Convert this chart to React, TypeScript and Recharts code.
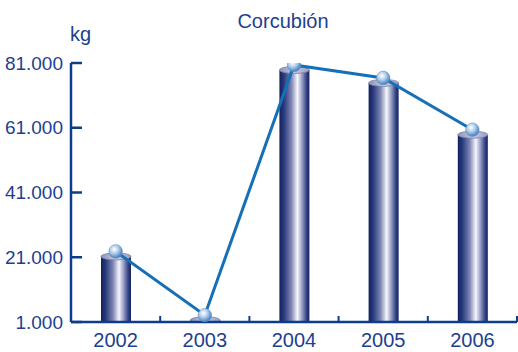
import React from 'react';
import { ComposedChart, Bar, Line, XAxis, YAxis } from 'recharts';

const years = ['2002', '2003', '2004', '2005', '2006'];
const kilos = [22800, 3100, 80400, 76400, 60400];
const yTicks = [1000, 21000, 41000, 61000, 81000];

const data = years.map((year, i) => ({ year, kg: kilos[i] }));

const W = 518;
const H = 352;
const LEFT = 71;
const RIGHT = 1;
const NAVY = '#1d3f8f';
const AXIS = '#0d3c8c';
const BAND = (W - LEFT - RIGHT) / years.length;

const fmt = (v: number) => v.toLocaleString('de-DE');

const Cylinder = (props: any) => {
  const { x, y, width, height } = props;
  if (height == null || height <= 0) return null;
  const ry = 3.5;
  const top = y + 5;
  const bottom = y + height;
  const cx = x + width / 2;
  return (
    <g>
      <rect x={x} y={top} width={width} height={Math.max(bottom - top, 0)} fill="url(#cyl)" />
      <ellipse cx={cx} cy={top} rx={width / 2} ry={ry} fill="url(#cylTop)" stroke="#7b7fab" strokeWidth={0.8} />
    </g>
  );
};

const Ball = (props: any) => {
  const { cx, cy } = props;
  if (cx == null || cy == null) return null;
  return <circle cx={cx} cy={cy} r={6.8} fill="url(#ball)" stroke="#5b8cc2" strokeWidth={0.5} />;
};

const XTick = (props: any) => {
  const { x, y, payload } = props;
  return (
    <g>
      <text x={x} y={y + 25} textAnchor="middle" fill={NAVY} fontSize={20} fontFamily="Arial, 'Liberation Sans', sans-serif">
        {payload.value}
      </text>
      <line x1={x + BAND / 2} x2={x + BAND / 2} y1={y - 6} y2={y} stroke={AXIS} strokeWidth={2} />
    </g>
  );
};

const YTick = (props: any) => {
  const { x, y, payload } = props;
  return (
    <g>
      <text x={x} y={y + 6.5} textAnchor="end" fill={NAVY} fontSize={19} fontFamily="'Liberation Sans Narrow', 'Arial Narrow', Arial, sans-serif">
        {fmt(payload.value)}
      </text>
      <line x1={x + 8} x2={x + 19} y1={y} y2={y} stroke={AXIS} strokeWidth={2.5} />
    </g>
  );
};

export default function App() {
  return (
    <div style={{ position: 'relative', width: W, height: H, background: '#fff' }}>
      <style>{`body{margin:0}`}</style>
      <div
        style={{
          position: 'absolute',
          left: 0,
          width: 566,
          top: 9,
          textAlign: 'center',
          fontFamily: "Arial, 'Liberation Sans', sans-serif",
          fontSize: 20,
          color: NAVY,
          lineHeight: '24px',
        }}
      >
        Corcubión
      </div>
      <div
        style={{
          position: 'absolute',
          left: 70,
          top: 22,
          fontFamily: "Arial, 'Liberation Sans', sans-serif",
          fontSize: 20,
          color: NAVY,
          lineHeight: '24px',
        }}
      >
        kg
      </div>
      <ComposedChart width={W} height={H} data={data} margin={{ top: 63, right: RIGHT, bottom: 0, left: 0 }}>
        <defs>
          <linearGradient id="cyl" x1="0" y1="0" x2="1" y2="0">
            <stop offset="0" stopColor="#132060" />
            <stop offset="0.15" stopColor="#283a7c" />
            <stop offset="0.4" stopColor="#8085b4" />
            <stop offset="0.6" stopColor="#f6f7fc" />
            <stop offset="0.75" stopColor="#9aa0c6" />
            <stop offset="0.9" stopColor="#364687" />
            <stop offset="1" stopColor="#132060" />
          </linearGradient>
          <linearGradient id="cylTop" x1="0" y1="0" x2="1" y2="0">
            <stop offset="0" stopColor="#8e92b8" />
            <stop offset="0.5" stopColor="#c9cbe0" />
            <stop offset="1" stopColor="#9a9dc0" />
          </linearGradient>
          <radialGradient id="ball" cx="0.4" cy="0.35" r="0.65">
            <stop offset="0" stopColor="#ffffff" />
            <stop offset="0.45" stopColor="#b6d0ea" />
            <stop offset="1" stopColor="#3f7fbe" />
          </radialGradient>
        </defs>
        <XAxis
          dataKey="year"
          height={30}
          axisLine={{ stroke: AXIS, strokeWidth: 2.5 }}
          tickLine={false}
          tickSize={0}
          tickMargin={0}
          tick={<XTick />}
          interval={0}
        />
        <YAxis
          width={LEFT}
          domain={[1000, 81000]}
          ticks={yTicks}
          allowDataOverflow
          axisLine={{ stroke: AXIS, strokeWidth: 2.5 }}
          tickLine={false}
          tickSize={0}
          tickMargin={8}
          tick={<YTick />}
        />
        <Bar dataKey="kg" barSize={30} shape={<Cylinder />} isAnimationActive={false} />
        <Line
          dataKey="kg"
          type="linear"
          stroke="#1570b8"
          strokeWidth={3}
          dot={<Ball />}
          activeDot={false}
          isAnimationActive={false}
        />
      </ComposedChart>
    </div>
  );
}
